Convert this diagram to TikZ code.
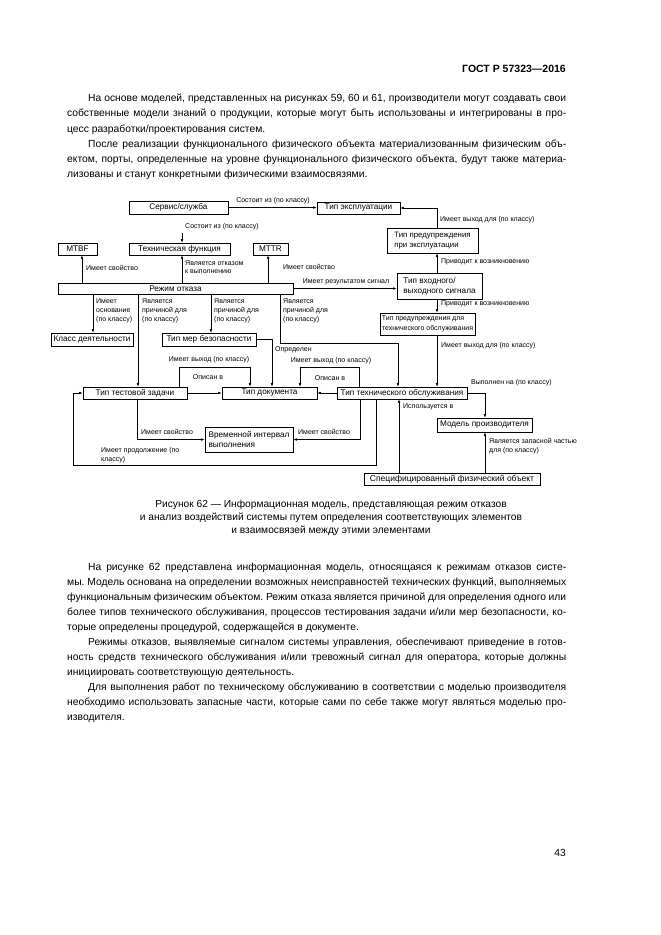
\documentclass[tikz,border=0pt]{standalone}
\usepackage{fontspec}
\setmainfont{Liberation Sans}
\usetikzlibrary{arrows.meta,calc}
\frenchspacing
\newcommand{\jl}[4]{\node[body] (#1) at (#2) {\makebox[#3][s]{#4}};}
\begin{document}
\begin{tikzpicture}[x=1pt,y=-1pt,
  box/.style={draw, line width=0.6pt, inner sep=0pt, font=\fontsize{8.2}{10}\selectfont, align=left},
  lbl/.style={inner sep=0pt, font=\fontsize{7}{8.7}\selectfont, align=left},
  arr/.style={line width=0.6pt, -{Latex[length=3.5pt,width=2.6pt]}},
  body/.style={anchor=base west, inner sep=0pt, font=\fontsize{10.3}{12}\selectfont},
  ctext/.style={anchor=base, inner sep=0pt, font=\fontsize{10.2}{12}\selectfont}]
\useasboundingbox[fill=white] (0,0) rectangle (661,935);

% ---------- header and text ----------
\node[anchor=base east, inner sep=0pt, font=\bfseries\fontsize{10.5}{12}\selectfont] (hdr) at (566,72.5) {ГОСТ Р 57323—2016};

\jl{t1}{88,101.5}{478pt}{На основе моделей, представленных на рисунках 59, 60 и 61, производители могут создавать свои}
\jl{t2}{67,116.5}{499pt}{собственные модели знаний о продукции, которые могут быть использованы и интегрированы в про-}
\node[body] (t3) at (67,132) {цесс разработки/проектирования систем.};
\jl{t4}{88,147}{478pt}{После реализации функционального физического объекта материализованным физическим объ-}
\jl{t5}{67,162}{499pt}{ектом, порты, определенные на уровне функционального физического объекта, будут также материа-}
\node[body] (t6) at (67,177) {лизованы и станут конкретными физическими взаимосвязями.};

\node[ctext] (cap1) at (331,507.5) {Рисунок 62 — Информационная модель, представляющая режим отказов};
\node[ctext] (cap2) at (331,520.5) {и анализ воздействий системы путем определения соответствующих элементов};
\node[ctext] (cap3) at (331,533.5) {и взаимосвязей между этими элементами};

\jl{u1}{88,570.5}{478pt}{На рисунке 62 представлена информационная модель, относящаяся к режимам отказов систе-}
\jl{u2}{67,585.5}{499pt}{мы. Модель основана на определении возможных неисправностей технических функций, выполняемых}
\jl{u3}{67,600.5}{499pt}{функциональным физическим объектом. Режим отказа является причиной для определения одного или}
\jl{u4}{67,615.5}{499pt}{более типов технического обслуживания, процессов тестирования задачи и/или мер безопасности, ко-}
\node[body] (u5) at (67,630.5) {торые определены процедурой, содержащейся в документе.};
\jl{u6}{88,645.5}{478pt}{Режимы отказов, выявляемые сигналом системы управления, обеспечивают приведение в готов-}
\jl{u7}{67,660.5}{499pt}{ность средств технического обслуживания и/или тревожный сигнал для оператора, которые должны}
\node[body] (u8) at (67,675.5) {инициировать соответствующую деятельность.};
\jl{u9}{88,690.5}{478pt}{Для выполнения работ по техническому обслуживанию в соответствии с моделью производителя}
\jl{u10}{67,705.5}{499pt}{необходимо использовать запасные части, которые сами по себе также могут являться моделью про-}
\node[body] (u11) at (67,720.5) {изводителя.};

\node[anchor=base east, inner sep=0pt, font=\fontsize{10.3}{12}\selectfont] (pg) at (566,856.5) {43};

% ---------- boxes ----------
\node[box, minimum width=99pt, minimum height=13pt] (serv) at (178.5,207.5) {Сервис/служба};
\node[box, minimum width=83pt, minimum height=12pt] (expl) at (358.5,208) {Тип эксплуатации};
\node[box, minimum width=91pt, minimum height=25pt, font=\fontsize{7.8}{10}\selectfont] (warnop) at (432.5,240.5) {Тип предупреждения\\при эксплуатации};
\node[box, minimum width=85pt, minimum height=26pt] (sig) at (439.5,286) {Тип входного/\\выходного сигнала};
\node[box, minimum width=95pt, minimum height=22pt, font=\fontsize{7}{9.5}\selectfont] (warnto) at (427.5,324) {Тип предупреждения для\\технического обслуживания};
\node[box, minimum width=39pt, minimum height=12pt] (mtbf) at (77.5,249) {MTBF};
\node[box, minimum width=101pt, minimum height=12pt] (techf) at (179.5,249) {Техническая функция};
\node[box, minimum width=35pt, minimum height=12pt] (mttr) at (270.5,249) {MTTR};
\node[box, minimum width=235pt, minimum height=11pt] (fm) at (175.5,288.5) {Режим отказа};
\node[box, minimum width=82pt, minimum height=13pt] (cls) at (92,339.5) {Класс деятельности};
\node[box, minimum width=94pt, minimum height=13pt] (safe) at (209,339.5) {Тип мер безопасности};
\node[box, minimum width=104pt, minimum height=12pt] (test) at (135,393) {Тип тестовой задачи};
\node[box, minimum width=95pt, minimum height=12pt] (doc) at (269.5,393) {Тип документа};
\node[box, minimum width=130pt, minimum height=12pt] (to) at (402,393) {Тип технического обслуживания};
\node[box, minimum width=95pt, minimum height=14pt] (man) at (484.5,425) {Модель производителя};
\node[box, minimum width=88pt, minimum height=25pt] (time) at (249,439.5) {Временной интервал\\выполнения};
\node[box, minimum width=176pt, minimum height=12pt, font=\fontsize{8.5}{10}\selectfont] (spec) at (452,479) {Специфицированный физический объект};

% ---------- helper coordinates ----------
\coordinate (vA) at (437,0);
\coordinate (vB) at (182,0);
\coordinate (vMB) at (82,0);
\coordinate (vMT) at (268,0);
\coordinate (vK) at (93,0);
\coordinate (vT) at (138,0);
\coordinate (vS) at (211,0);
\coordinate (vR) at (280,0);
\coordinate (vR2) at (398,0);
\coordinate (vD) at (272,0);
\coordinate (vL1) at (179,0);
\coordinate (vL2) at (250,0);
\coordinate (vR3) at (359,0);
\coordinate (vR4) at (300,0);
\coordinate (vM) at (485,0);
\coordinate (vU) at (399,0);
\coordinate (vP1) at (137,0);
\coordinate (vP2) at (360,0);
\coordinate (vC) at (376,0);
\coordinate (c1) at (182,233);
\coordinate (r1) at (280,343);
\coordinate (l1) at (179,367);
\coordinate (l2) at (359,367);
\coordinate (b1) at (73,465);

% ---------- connectors ----------
\draw[arr] (serv.east) -- (serv.east -| expl.west);
\draw[arr] (vA |- warnop.north) |- (expl.east);
\draw[arr] (vA |- sig.north) -- (vA |- warnop.south);
\draw[arr] (fm.east) -- (fm.east -| sig.west);
\draw[arr] (vA |- sig.south) -- (vA |- warnto.north);
\draw[arr] (vA |- warnto.south) -- (vA |- to.north);
\draw[arr] (c1) -- (c1 |- techf.north);
\draw[arr] (vB |- fm.north) -- (vB |- techf.south);
\draw[arr] (vMB |- fm.north) -- (vMB |- mtbf.south);
\draw[arr] (vMT |- fm.north) -- (vMT |- mttr.south);
\draw[arr] (vK |- fm.south) -- (vK |- cls.north);
\draw[arr] (vT |- fm.south) -- (vT |- test.north);
\draw[arr] (vS |- fm.south) -- (vS |- safe.north);
\draw[arr] (vR |- fm.south) -- (r1) -| (vR2 |- to.north);
\draw[arr] (safe.east) -| (vD |- doc.north);
\draw[arr] (vL1 |- test.north) -- (l1) -| (vL2 |- doc.north);
\draw[arr] (test.east) -- (doc.west);
\draw[arr] (vR3 |- to.north) -- (l2) -| (vR4 |- doc.north);
\draw[arr] (to.west) -- (doc.east);
\draw[arr] (to.east) -| (vM |- man.north);
\draw[arr] (vU |- spec.north) -- (vU |- to.south);
\draw[arr] (vM |- spec.north) -- (vM |- man.south);
\draw[arr] (vP1 |- test.south) |- (time.west);
\draw[arr] (vP2 |- to.south) |- (time.east);
\draw[arr] (vC |- to.south) |- (b1) |- (test.west);

% ---------- labels ----------
\node[lbl] (L1) at (273,201) {Состоит из (по классу)};
\node[lbl, anchor=west] (L2) at (440,220) {Имеет выход для (по классу)};
\node[lbl, anchor=west] (L3) at (441,262) {Приводит к возникновению};
\node[lbl] (L4) at (346,282) {Имеет результатом сигнал};
\node[lbl, anchor=west] (L5) at (441,304) {Приводит к возникновению};
\node[lbl, anchor=west] (L6) at (441,346) {Имеет выход для (по классу)};
\node[lbl, anchor=west] (L7) at (185,227) {Состоит из (по классу)};
\node[lbl, anchor=west] (L8) at (185,267) {Является отказом\\к выполнению};
\node[lbl, anchor=west] (L9) at (86,268) {Имеет свойство};
\node[lbl, anchor=west] (L10) at (283,267) {Имеет свойство};
\node[lbl, anchor=west] (L11) at (96,311) {Имеет\\основание\\(по классу)};
\node[lbl, anchor=west] (L12) at (142,311) {Является\\причиной для\\(по классу)};
\node[lbl, anchor=west] (L13) at (214,311) {Является\\причиной для\\(по классу)};
\node[lbl, anchor=west] (L14) at (283,311) {Является\\причиной для\\(по классу)};
\node[lbl, anchor=west] (L15) at (275,350) {Определен};
\node[lbl] (L16) at (209,360) {Имеет выход (по классу)};
\node[lbl] (L17) at (208,377) {Описан в};
\node[lbl] (L18) at (331,361) {Имеет выход (по классу)};
\node[lbl] (L19) at (330,378) {Описан в};
\node[lbl, anchor=west] (L20) at (471,383) {Выполнен на (по классу)};
\node[lbl, anchor=west] (L21) at (403,407) {Используется в};
\node[lbl, anchor=west] (L22) at (489,446) {Является запасной частью\\для (по классу)};
\node[lbl, anchor=west] (L23) at (141,432) {Имеет свойство};
\node[lbl, anchor=west] (L24) at (298,432) {Имеет свойство};
\node[lbl, anchor=west] (L25) at (101,455) {Имеет продолжение (по\\классу)};
\end{tikzpicture}
\end{document}
